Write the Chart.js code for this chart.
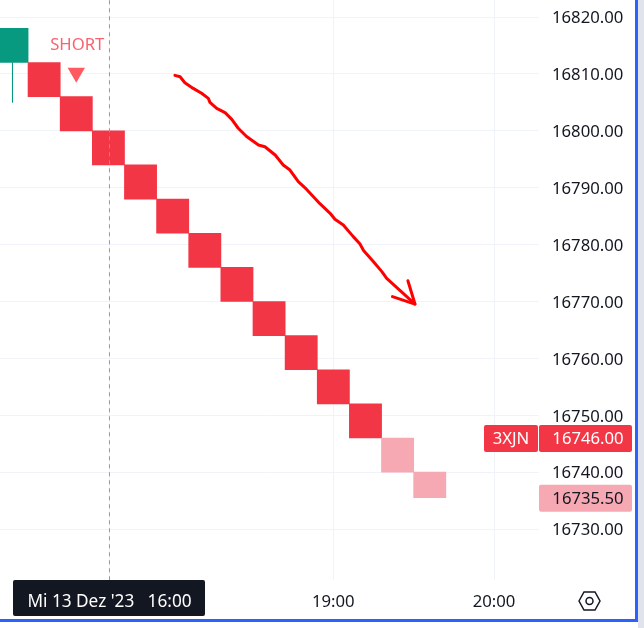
<!DOCTYPE html>
<html lang="de">
<head>
    <meta charset="UTF-8">
    <title>3XJN Renko</title>
    <script src="https://cdn.jsdelivr.net/npm/chart.js"></script>
    <style>
        html, body { margin: 0; padding: 0; background: #ffffff; }
        canvas { display: block; }
    </style>
</head>
<body>
    <canvas id="chart" width="644" height="628"></canvas>
    <script>
        // Renko boxes, left to right (index 0 is the cut off green box)
        const boxOpen = [16812, 16812, 16806, 16800, 16794, 16788, 16782, 16776, 16770, 16764, 16758, 16752, 16746, 16740];
        const boxClose = [16818, 16806, 16800, 16794, 16788, 16782, 16776, 16770, 16764, 16758, 16752, 16746, 16740, 16735.5];
        const boxColors = ['#089981', '#f23645', '#f23645', '#f23645', '#f23645', '#f23645', '#f23645', '#f23645', '#f23645', '#f23645', '#f23645', '#f23645', '#f7a9b3', '#f7a9b3'];

        // Wick of the green box
        const wickX = [0.015, 0.015];
        const wickY = [16812, 16805];

        // Axis ticks
        const priceTicks = [16730, 16740, 16750, 16760, 16770, 16780, 16790, 16800, 16810, 16820];
        const timeTicks = [3.034, 10, 15];
        const timeLabels = ['', '19:00', '20:00'];

        // Crosshair
        const crossIndex = 3.034;
        const crossLabel = "Mi 13 Dez '23   16:00";

        // SHORT signal
        const signalX = [2];
        const signalY = [16810.2];
        const signalText = 'SHORT';
        const signalTextPrice = 16815;

        // Price tags
        const lastPrice = 16746;
        const lastPriceSymbol = '3XJN';
        const closePrice = 16735.5;

        // Hand drawn arrow (box index / price)
        const arrowX = [5.07, 5.23, 5.38, 5.64, 5.9, 6.11, 6.16, 6.37, 6.63, 6.84, 7.04, 7.3, 7.67, 7.87, 8.19, 8.44, 8.65, 8.91, 9.17, 9.59, 9.9, 10.05, 10.31, 10.62, 10.83, 10.94, 11.25, 11.51, 11.66, 12.08, 12.54];
        const arrowY = [16809.75, 16809.5, 16808.45, 16807.45, 16806.6, 16805.7, 16805, 16803.95, 16803.2, 16802, 16800.45, 16799, 16797.5, 16797.2, 16795.75, 16794, 16793.1, 16791.05, 16789.7, 16787.15, 16785.5, 16784.45, 16783.45, 16781.4, 16780.1, 16778.95, 16777, 16775.25, 16774.05, 16771.9, 16769.55];
        const arrowHeadX = [12.32, 12.54, 11.84];
        const arrowHeadY = [16773.65, 16769.55, 16770.85];

        const textColor = '#131722';
        const gridColor = '#f0f3fa';
        const fontName = '"Noto Sans", sans-serif';
        const fontSize = 16.7;

        function toPoints(xs, ys) {
            return xs.map((x, i) => ({ x: x, y: ys[i] }));
        }

        function roundBox(ctx, x, y, w, h, color) {
            ctx.fillStyle = color;
            ctx.beginPath();
            ctx.roundRect(x, y, w, h, 2);
            ctx.fill();
        }

        // Tags, labels and the small settings icon
        const overlay = {
            id: 'overlay',
            afterDraw(chart) {
                const ctx = chart.ctx;
                const xs = chart.scales.x;
                const ys = chart.scales.y;
                ctx.save();
                ctx.textBaseline = 'middle';
                ctx.font = fontSize + 'px ' + fontName;

                // SHORT
                ctx.textAlign = 'center';
                ctx.fillStyle = '#f9636f';
                ctx.fillText(signalText, xs.getPixelForValue(signalX[0]) + 1, ys.getPixelForValue(signalTextPrice));

                // last price
                const lastY = ys.getPixelForValue(lastPrice);
                roundBox(ctx, 484, lastY - 13, 54, 27, '#f23645');
                roundBox(ctx, 539, lastY - 13, 93, 27, '#f23645');
                ctx.fillStyle = '#ffffff';
                ctx.fillText(lastPriceSymbol, 511, lastY + 1);
                ctx.fillText(lastPrice.toFixed(2), 588, lastY + 1);

                // close price
                const closeY = ys.getPixelForValue(closePrice);
                roundBox(ctx, 539, closeY - 13, 93, 27, '#f7a9b3');
                ctx.fillStyle = textColor;
                ctx.fillText(closePrice.toFixed(2), 588, closeY + 1);

                // crosshair date
                const crossX = xs.getPixelForValue(crossIndex);
                roundBox(ctx, crossX - 96.5, 580, 192, 36, textColor);
                ctx.fillStyle = '#ffffff';
                ctx.font = '17.2px ' + fontName;
                ctx.fillText(crossLabel, crossX, 602);

                // hexagon icon
                ctx.strokeStyle = textColor;
                ctx.lineWidth = 1.5;
                ctx.beginPath();
                ctx.moveTo(579, 601);
                ctx.lineTo(584, 592);
                ctx.lineTo(595, 592);
                ctx.lineTo(600, 601);
                ctx.lineTo(595, 610);
                ctx.lineTo(584, 610);
                ctx.closePath();
                ctx.stroke();
                ctx.beginPath();
                ctx.arc(589.5, 601, 3.5, 0, Math.PI * 2);
                ctx.stroke();

                // frame on the right and bottom
                ctx.fillStyle = '#2962ff';
                ctx.fillRect(635, 0, 3, 622);
                ctx.fillRect(0, 619, 638, 3);
                ctx.fillStyle = '#e0e3eb';
                ctx.fillRect(638, 0, 6, 628);
                ctx.restore();
            }
        };

        new Chart(document.getElementById('chart'), {
            data: {
                datasets: [
                    {
                        type: 'bar',
                        order: 5,
                        data: boxOpen.map((o, i) => ({ x: i, y: [o, boxClose[i]] })),
                        backgroundColor: boxColors,
                        barThickness: 32.2,
                        borderWidth: 0,
                        borderSkipped: false
                    },
                    {
                        type: 'line',
                        order: 4,
                        data: toPoints(wickX, wickY),
                        borderColor: '#089981',
                        borderWidth: 1,
                        pointRadius: 0
                    },
                    {
                        type: 'line',
                        order: 3,
                        data: toPoints(signalX, signalY),
                        showLine: false,
                        pointStyle: 'triangle',
                        rotation: 180,
                        pointRadius: 10,
                        pointBackgroundColor: '#ff5a5f',
                        pointBorderWidth: 0
                    },
                    {
                        // crosshair
                        type: 'line',
                        order: 2,
                        data: [{ x: crossIndex, y: 16721 }, { x: crossIndex, y: 16823 }],
                        borderColor: '#9598a1',
                        borderWidth: 1,
                        borderDash: [4, 4],
                        pointRadius: 0
                    },
                    {
                        type: 'line',
                        order: 1,
                        data: toPoints(arrowX, arrowY),
                        borderColor: '#ff0000',
                        borderWidth: 3,
                        borderCapStyle: 'round',
                        borderJoinStyle: 'round',
                        pointRadius: 0
                    },
                    {
                        type: 'line',
                        order: 0,
                        data: toPoints(arrowHeadX, arrowHeadY),
                        borderColor: '#ff0000',
                        borderWidth: 3,
                        borderCapStyle: 'round',
                        borderJoinStyle: 'round',
                        pointRadius: 0
                    }
                ]
            },
            options: {
                responsive: false,
                animation: false,
                layout: { padding: 0, autoPadding: false },
                plugins: { legend: { display: false }, tooltip: { enabled: false } },
                scales: {
                    x: {
                        type: 'linear',
                        offset: false,
                        min: -0.3735,
                        max: 16.4,
                        afterBuildTicks(axis) { axis.ticks = timeTicks.map(v => ({ value: v })); },
                        afterFit(axis) {
                            axis.height = 48;
                            axis.paddingLeft = 0;
                            axis.paddingRight = 0;
                        },
                        grid: { offset: false, color: gridColor, drawTicks: false },
                        border: { display: false },
                        ticks: {
                            autoSkip: false,
                            maxRotation: 0,
                            padding: 12,
                            color: textColor,
                            font: { family: fontName, size: fontSize },
                            callback(value) { return timeLabels[timeTicks.indexOf(value)]; }
                        }
                    },
                    y: {
                        type: 'linear',
                        position: 'right',
                        min: 16721.05,
                        max: 16822.99,
                        afterBuildTicks(axis) { axis.ticks = priceTicks.map(v => ({ value: v })); },
                        afterFit(axis) {
                            axis.width = 105;
                            axis.paddingTop = 0;
                            axis.paddingBottom = 0;
                        },
                        grid: { color: gridColor, drawTicks: false },
                        border: { display: false },
                        ticks: {
                            padding: 13,
                            labelOffset: 1.5,
                            color: textColor,
                            font: { family: fontName, size: fontSize },
                            callback(value) { return value.toFixed(2); }
                        }
                    }
                }
            },
            plugins: [overlay]
        });
    </script>
</body>
</html>
